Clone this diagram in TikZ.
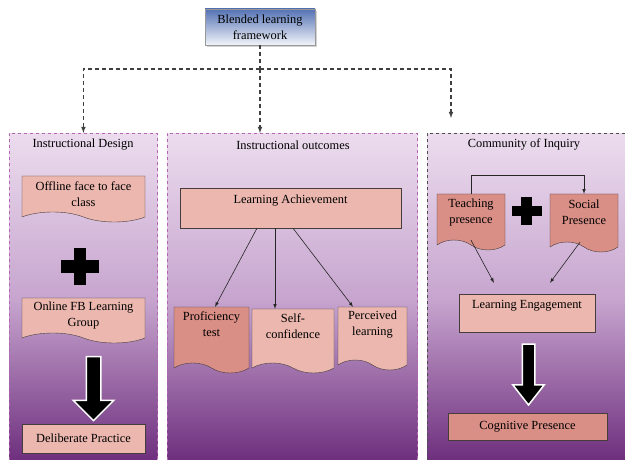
\documentclass[tikz,border=0pt]{standalone}
\usepackage{fontspec}
\setmainfont{Liberation Serif}
\usetikzlibrary{positioning}
\usetikzlibrary{arrows}
\usetikzlibrary{shapes}
\usetikzlibrary{shadows}
\definecolor{boxpink}{RGB}{235,183,174}
\definecolor{boxrose}{RGB}{217,142,134}
\definecolor{panellight}{RGB}{236,220,238}
\definecolor{panelmid}{RGB}{198,164,206}
\definecolor{paneldark}{RGB}{106,42,122}
\definecolor{lineg}{RGB}{70,60,60}
\definecolor{frameblue}{RGB}{84,114,180}

\begin{document}
\begin{tikzpicture}
    [x=1pt, y=-1pt, font=\fontsize{12.4}{16}\selectfont,
    panel/.style={dashed, line width=0.8pt, top color=panellight, bottom color=paneldark, middle color=panelmid, anchor=north west, inner sep=0pt},
    frame/.style={draw=gray!80, top color=frameblue, bottom color=frameblue!8, align=center, minimum width=110, minimum height=36, drop shadow={shadow xshift=2pt, shadow yshift=-2pt, opacity=.35}},
    doc/.style={tape, tape bend top=none, tape bend bottom=out and in, tape bend height=10pt, draw=lineg, fill=boxpink, align=center, inner sep=2pt},
    plainbox/.style={draw=lineg, fill=boxpink, inner sep=2pt},
    plusbar/.style={fill=black, inner sep=0pt},
    bigarrow/.style={single arrow, rotate=-90, fill=black, draw=white, line width=1.5pt, inner xsep=0pt, drop shadow={shadow xshift=1pt, shadow yshift=-1pt, opacity=.3}},
    link/.style={draw=black!75, line width=1.1pt, dash pattern=on 4pt off 3pt},
    arrow/.style={->, >=latex, draw=black!85, line width=0.6pt}]
    \useasboundingbox (0,0) rectangle (625,460);
    % three panels
    \node[panel, draw=violet!60, minimum width=148, minimum height=334] (panelA) at (9,133) {};
    \node[panel, draw=violet!60, minimum width=250, minimum height=334] (panelB) at (167,133) {};
    \node[panel, draw=black!70, minimum width=202, minimum height=334] (panelC) at (427,133) {};
    \node (titleA) at (83,145) {Instructional Design};
    \node (titleB) at (293,145) {Instructional outcomes};
    \node (titleC) at (524,144) {Community of Inquiry};
    % top
    \node[frame] (blend) at (260,27) {Blended learning\\framework};
    \coordinate (split) at (260,69);
    \coordinate (tipC) at (451,118);
    \draw[link] (blend) -- (split);
    \draw[link, -latex] (split) -| (panelA.north);
    \draw[link, -latex] (split) -- (split |- panelB.north);
    \draw[link, -latex] (split) -| (tipC);
    % instructional design
    \node[doc, minimum width=123, minimum height=46] (offline) at (83.5,194) {Offline face to face\\class};
    \node[plusbar, minimum width=38, minimum height=13] (plusAh) at (79.5,266.5) {};
    \node[plusbar, minimum width=12, minimum height=37] (plusAv) at (79.5,266.5) {};
    \node[doc, minimum width=123, minimum height=45] (online) at (83.5,315.5) {Online FB Learning\\Group};
    \node[bigarrow, inner ysep=6.5pt, single arrow head extend=13pt, minimum height=64] (downA) at (93.5,385) {};
    \node[plainbox, minimum width=123, minimum height=29] (practice) at (83.5,438.5) {Deliberate Practice};
    % instructional outcomes
    \node[plainbox, minimum width=221, minimum height=40, text depth=18pt] (achieve) at (290.5,208) {Learning Achievement};
    \node[doc, fill=boxrose, minimum width=75, minimum height=66, text depth=22pt] (proficiency) at (211.5,335) {Proficiency\\test};
    \node[doc, minimum width=82, minimum height=64, text depth=20pt] (confidence) at (293,336) {Self-\\confidence};
    \node[doc, minimum width=69, minimum height=63, text depth=20pt] (perceived) at (372.5,333.5) {Perceived\\learning};
    \draw[arrow] ([xshift=-33.5]achieve.south) -- ([xshift=3.5]proficiency.north);
    \draw[arrow] ([xshift=-15.5]achieve.south) -- ([xshift=-18]confidence.north);
    \draw[arrow] ([xshift=2.5]achieve.south) -- ([xshift=-19.5]perceived.north);
    % community of inquiry
    \node[doc, fill=boxrose, minimum width=68, minimum height=56, text depth=12pt] (teaching) at (471,217) {Teaching\\presence};
    \node[plusbar, minimum width=30, minimum height=10] (plusCh) at (526.5,211) {};
    \node[plusbar, minimum width=11, minimum height=28] (plusCv) at (526.5,211) {};
    \node[doc, fill=boxrose, minimum width=68, minimum height=58, text depth=12pt] (social) at (584,218) {Social\\Presence};
    \node[plainbox, minimum width=136, minimum height=38, text depth=18pt] (engage) at (527,313) {Learning Engagement};
    \draw[arrow] (teaching.north) -- ++(0,-18) -| (social.north);
    \draw[arrow] (teaching.south) -- ([xshift=-33pt, yshift=11pt]engage.north);
    \draw[arrow] ([xshift=-4pt]social.south) -- ([xshift=23pt, yshift=11pt]engage.north);
    \node[bigarrow, inner ysep=5.5pt, single arrow head extend=9.5pt, single arrow tip angle=76, minimum height=61] (downC) at (528.5,370.5) {};
    \node[plainbox, fill=boxrose, minimum width=159, minimum height=27] (cognitive) at (527.5,426.5) {Cognitive Presence};
\end{tikzpicture}
\end{document}
